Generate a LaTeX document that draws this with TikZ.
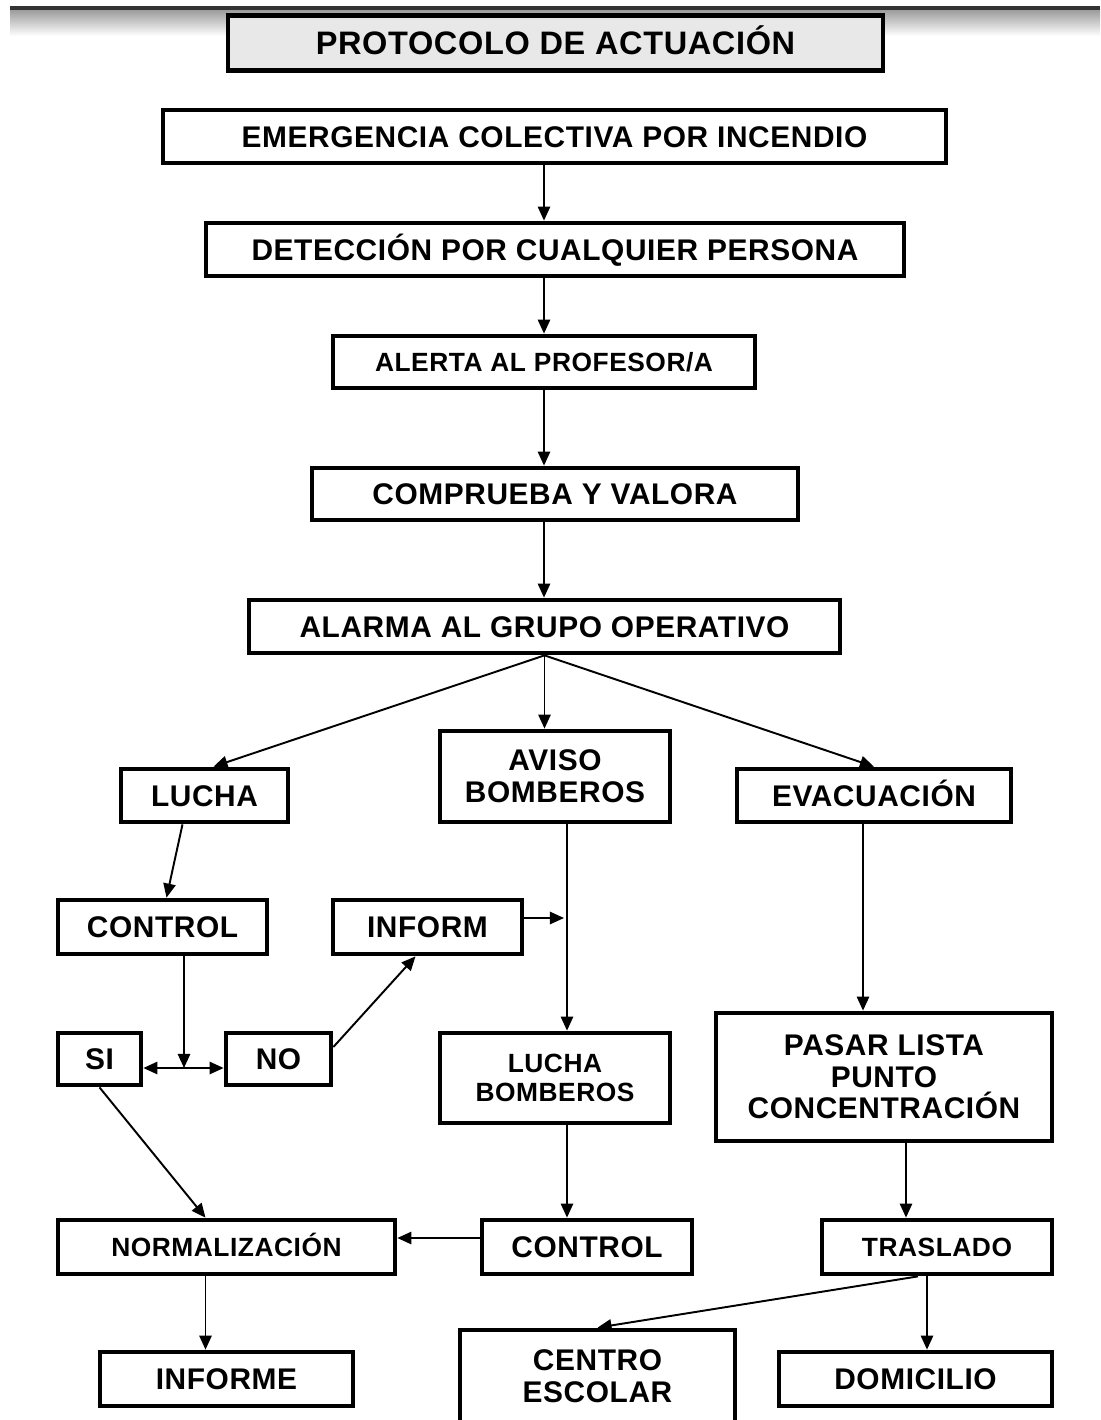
\documentclass[tikz,border=0pt]{standalone}
\usepackage{fontspec}
\setmainfont[LetterSpace=2]{Liberation Sans}
\usetikzlibrary{calc, arrows.meta}

\begin{document}
\begin{tikzpicture}
    [
      x=0.02cm, y=-0.02cm,
      box/.style={draw, line width=2.7pt, inner sep=0pt, align=center,
        font=\bfseries\fontsize{17}{18}\selectfont},
      one/.style={text height=12.2pt, text depth=0pt},
      small/.style={font=\bfseries\fontsize{15}{16.5}\selectfont},
      smallone/.style={small, text height=10.7pt, text depth=0pt},
      arrow/.style={line width=1.1pt, -{Triangle[length=8pt,width=7pt]}}
    ]
    \useasboundingbox (0,0) rectangle (1100,1420);
    % top band
    \shade[top color=black!40, bottom color=white] (10,9) rectangle (1100,36);
    \fill[black!80] (10,6) rectangle (1100,10);
    % title
    \node [box, one, fill=black!9, minimum width=13.1cm, minimum height=1.1cm,
      font=\bfseries\fontsize{18.5}{20}\selectfont, text height=13.2pt] (title) at (555.5,43) {PROTOCOLO DE ACTUACIÓN};
    % main column
    \node [box, one, minimum width=15.66cm, minimum height=1.06cm] (emerg) at (554.5,136.5) {EMERGENCIA COLECTIVA POR INCENDIO};
    \node [box, one, minimum width=13.96cm, minimum height=1.06cm] (detec) at (555,249.5) {DETECCIÓN POR CUALQUIER PERSONA};
    \node [box, smallone, minimum width=8.44cm, minimum height=1.04cm] (alerta) at (544,362) {ALERTA AL PROFESOR/A};
    \node [box, one, minimum width=9.72cm, minimum height=1.04cm] (comp) at (555,494) {COMPRUEBA Y VALORA};
    \node [box, one, minimum width=11.82cm, minimum height=1.06cm] (alarma) at (544.5,626.5) {ALARMA AL GRUPO OPERATIVO};
    % branches
    \node [box, one, minimum width=3.34cm, minimum height=1.06cm] (lucha) at (204.5,795.5) {LUCHA};
    \node [box, minimum width=4.6cm, minimum height=1.82cm] (aviso) at (555,776.5) {AVISO\\BOMBEROS};
    \node [box, one, minimum width=5.48cm, minimum height=1.06cm] (evac) at (874,795.5) {EVACUACIÓN};
    \node [box, one, minimum width=4.18cm, minimum height=1.08cm] (ctrl) at (162.5,927) {CONTROL};
    \node [box, one, minimum width=3.78cm, minimum height=1.08cm] (inform) at (427.5,927) {INFORM};
    \node [box, one, minimum width=1.66cm, minimum height=1.04cm] (si) at (99.5,1059) {SI};
    \node [box, one, minimum width=2.1cm, minimum height=1.04cm] (no) at (278.5,1059) {NO};
    \node [box, small, minimum width=4.6cm, minimum height=1.8cm] (luchab) at (555,1078) {LUCHA\\BOMBEROS};
    \node [box, minimum width=6.72cm, minimum height=2.56cm] (pasar) at (884,1077) {PASAR LISTA\\PUNTO\\CONCENTRACIÓN};
    \node [box, smallone, minimum width=6.74cm, minimum height=1.08cm] (normal) at (226.5,1247) {NORMALIZACIÓN};
    \node [box, one, minimum width=4.2cm, minimum height=1.08cm] (ctrlb) at (587,1247) {CONTROL};
    \node [box, smallone, minimum width=4.6cm, minimum height=1.08cm] (trasl) at (937,1247) {TRASLADO};
    \node [box, one, minimum width=5.06cm, minimum height=1.08cm] (informe) at (226.5,1379) {INFORME};
    \node [box, minimum width=5.5cm, minimum height=1.84cm] (centro) at (597.5,1376) {CENTRO\\ESCOLAR};
    \node [box, one, minimum width=5.46cm, minimum height=1.08cm] (domic) at (915.5,1379) {DOMICILIO};
    % main column arrows
    \draw [arrow] (emerg.south -| alerta) -- (detec.north -| alerta);
    \draw [arrow] (detec.south -| alerta) -- (alerta.north);
    \draw [arrow] (alerta.south) -- (comp.north -| alerta);
    \draw [arrow] (comp.south -| alerta) -- (alarma.north -| alerta);
    % branch arrows
    \draw [arrow] (alarma.south) -- ($(lucha.north)+(9,0)$);
    \draw [arrow] (alarma.south) -- (aviso.north -| alarma.south);
    \draw [arrow] (alarma.south) -- (evac.north);
    \draw [arrow] ($(lucha.south)+(-22,0)$) -- ($(ctrl.north)+(4,0)$);
    \draw [arrow] ($(aviso.south)+(12,0)$) coordinate (a1) -- (luchab.north -| a1);
    \coordinate (j1) at (567,918);
    \draw [arrow] (inform.east |- j1) -- ($(j1)+(-3,0)$);
    \draw [arrow] ($(evac.south)+(-11,0)$) coordinate (e1) -- (pasar.north -| e1);
    \coordinate (j2) at (184,1068);
    \draw [arrow] (ctrl.south -| j2) -- (j2);
    \draw [line width=1.1pt, {Triangle[length=8pt,width=7pt]}-{Triangle[length=8pt,width=7pt]}]
      (si.east |- j2) -- (no.west |- j2);
    \draw [arrow] ($(no.east)+(0,-12)$) -- ($(inform.south)+(-12,0)$);
    \draw [arrow] (si.south) -- ($(normal.north)+(-21,0)$);
    \draw [arrow] (luchab.south -| a1) -- (ctrlb.north -| a1);
    \draw [arrow] ($(ctrlb.west)+(0,-9)$) coordinate (c1) -- (normal.east |- c1);
    \draw [arrow] ($(normal.south)+(-21,0)$) coordinate (n1) -- (informe.north -| n1);
    \draw [arrow] ($(pasar.south)+(22,0)$) coordinate (p1) -- (trasl.north -| p1);
    \draw [arrow] ($(trasl.south)+(-19,0)$) -- (centro.north);
    \draw [arrow] ($(trasl.south)+(-10,0)$) coordinate (t1) -- (domic.north -| t1);
\end{tikzpicture}
\end{document}
